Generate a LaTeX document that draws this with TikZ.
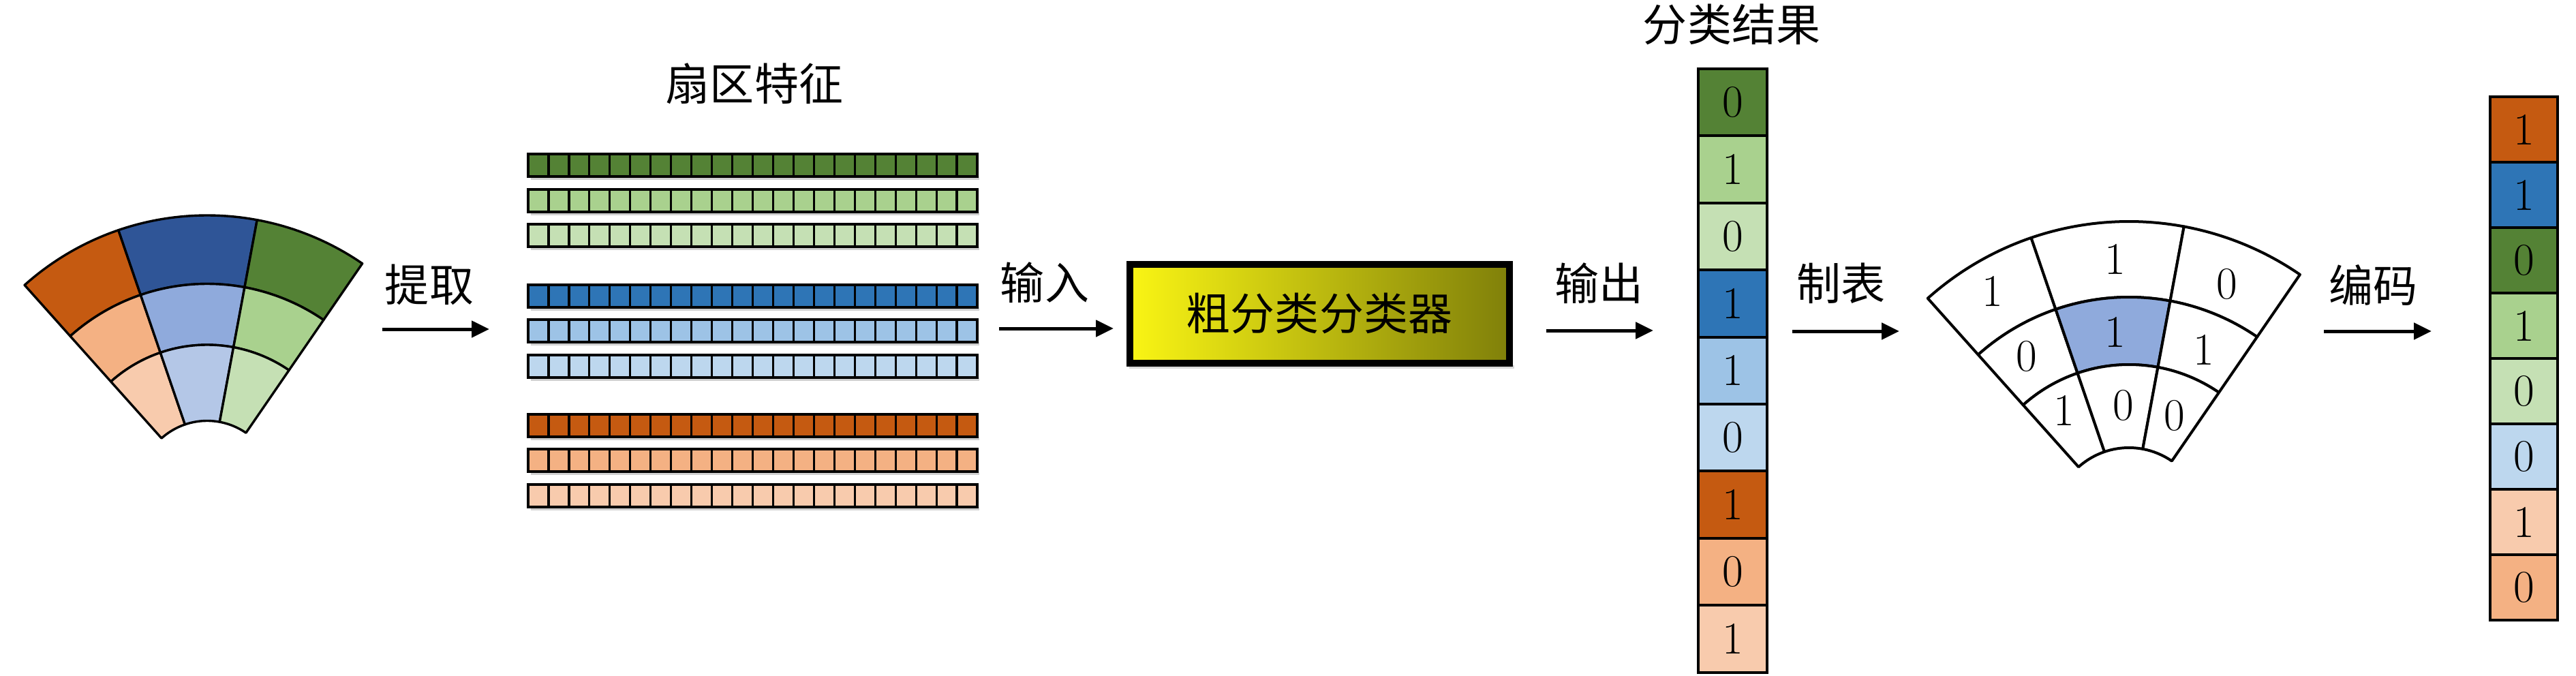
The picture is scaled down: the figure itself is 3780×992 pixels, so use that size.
\documentclass[tikz,border=0pt]{standalone}
\usepackage{fontspec}
\newfontfamily\cjk{Noto Sans CJK SC}
\usetikzlibrary{arrows.meta}
\definecolor{dorange}{HTML}{C55A11}
\definecolor{morange}{HTML}{F4B183}
\definecolor{lorange}{HTML}{F8CBAD}
\definecolor{dnavy}{HTML}{2F5597}
\definecolor{mnavy}{HTML}{8FAADC}
\definecolor{lnavy}{HTML}{B4C7E7}
\definecolor{dgreen}{HTML}{548235}
\definecolor{mgreen}{HTML}{A9D18E}
\definecolor{lgreen}{HTML}{C5E0B4}
\definecolor{dblue}{HTML}{2E75B6}
\definecolor{mblue}{HTML}{9DC3E6}
\definecolor{lblue}{HTML}{BDD7EE}
\definecolor{yelA}{RGB}{250,245,20}
\definecolor{yelB}{RGB}{222,222,16}
\definecolor{yelC}{RGB}{128,128,10}
\newcommand\fancell[5]{%
  \filldraw[fanline, fill=#5] (#1:#3) -- (#1:#4)
    arc[start angle=#1, end angle=#2, radius=#4*0.1mm] -- (#2:#3)
    arc[start angle=#2, end angle=#1, radius=#3*0.1mm] -- cycle;}
\begin{document}
\begin{tikzpicture}[x=0.1mm,y=0.1mm,
  fanline/.style={line width=0.34mm, draw=black, line join=round},
  cellline/.style={line width=0.32mm, draw=black},
  lbl/.style={font=\cjk\fontsize{18.5}{20}\selectfont, inner sep=0pt},
  digit/.style={font=\fontsize{19}{20}\selectfont, inner sep=0pt},
  colcell/.style={draw=black, line width=0.4mm, inner sep=0pt, font=\fontsize{19}{20}\selectfont},
  arr/.style={line width=0.5mm, -{Triangle[length=2.6mm,width=2.4mm]}},
  clfbox/.style={draw=black, line width=1mm, minimum width=55.7mm, minimum height=14.5mm,
    left color=yelA, middle color=yelB, right color=yelC, inner sep=0pt,
    font=\cjk\fontsize{18.5}{20}\selectfont}
]
\useasboundingbox (0,0) rectangle (3780,-992);

% ---------- left fan ----------
\begin{scope}[shift={(304,-718)}]
  \fancell{108.9}{131.8}{301.5}{402}{dorange}
  \fancell{79.5}{108.9}{301.5}{402}{dnavy}
  \fancell{55.5}{79.5}{301.5}{402}{dgreen}
  \fancell{108.9}{131.8}{212}{301.5}{morange}
  \fancell{79.5}{108.9}{212}{301.5}{mnavy}
  \fancell{55.5}{79.5}{212}{301.5}{mgreen}
  \fancell{108.9}{131.8}{100.5}{212}{lorange}
  \fancell{79.5}{108.9}{100.5}{212}{lnavy}
  \fancell{55.5}{79.5}{100.5}{212}{lgreen}
\end{scope}

% ---------- feature strips ----------
\foreach \yt/\col in {226/dgreen, 278/mgreen, 329/lgreen, 418/dblue, 469/mblue, 521/lblue, 608/dorange, 659/morange, 711/lorange}{
  \fill[black!18] (779,-\yt-33) rectangle (1437,-\yt-38);
  \filldraw[cellline, fill=\col] (775,-\yt) rectangle (1434,-\yt-33);
  \foreach \k in {1,...,21}
    \draw[cellline] ({775+\k*659/22},-\yt) -- ++(0,-33);
}

% ---------- labels ----------
\node[lbl] (t1) at (630,-418) {提取};
\node[lbl] (t2) at (1107,-123) {扇区特征};
\node[lbl] (t3) at (1533,-415) {输入};
\node[lbl] (t4) at (2346,-416) {输出};
\node[lbl] (t5) at (2541,-36) {分类结果};
\node[lbl] (t6) at (2701,-416) {制表};
\node[lbl] (t7) at (3482,-418) {编码};

% ---------- classifier ----------
\fill[black!15] (1657,-541) rectangle (2222,-536);
\node[clfbox] (clf) at (1936,-460) {粗分类分类器};

% ---------- arrows ----------
\coordinate (a1s) at (561,-483);  \coordinate (a1e) at (718,-483);
\coordinate (a2s) at (1466,-482); \coordinate (a2e) at (1634,-482);
\coordinate (a3s) at (2269,-485); \coordinate (a3e) at (2426,-485);
\coordinate (a4s) at (2630,-486); \coordinate (a4e) at (2787,-486);
\coordinate (a5s) at (3410,-486); \coordinate (a5e) at (3568,-486);
\draw[arr] (a1s) -- (a1e);
\draw[arr] (a2s) -- (a2e);
\draw[arr] (a3s) -- (a3e);
\draw[arr] (a4s) -- (a4e);
\draw[arr] (a5s) -- (a5e);

% ---------- classification result column ----------
\foreach \d/\col [count=\k] in {0/dgreen,1/mgreen,0/lgreen,1/dblue,1/mblue,0/lblue,1/dorange,0/morange,1/lorange}{
  \node[colcell, fill=\col, minimum width=10.1mm, minimum height=9.84mm]
    (r\k) at (2542.5,{-(101+98.4*(\k-0.5))}) {\d};
}

% ---------- right fan ----------
\begin{scope}[shift={(3124,-768)}, fanline/.append style={line width=0.4mm}]
  \fancell{108.9}{131.8}{332}{443}{white}
  \fancell{79.5}{108.9}{332}{443}{white}
  \fancell{55.5}{79.5}{332}{443}{white}
  \fancell{108.9}{131.8}{233}{332}{white}
  \fancell{79.5}{108.9}{233}{332}{mnavy}
  \fancell{55.5}{79.5}{233}{332}{white}
  \fancell{108.9}{131.8}{111}{233}{white}
  \fancell{79.5}{108.9}{111}{233}{white}
  \fancell{55.5}{79.5}{111}{233}{white}
\end{scope}
\node[digit] (f1) at (2924,-427) {1};
\node[digit] (f2) at (3104,-380) {1};
\node[digit] (f3) at (3268,-417) {0};
\node[digit] (f4) at (2974,-523) {0};
\node[digit] (f5) at (3104,-487) {1};
\node[digit] (f6) at (3234,-513) {1};
\node[digit] (f7) at (3029,-602) {1};
\node[digit] (f8) at (3116,-595) {0};
\node[digit] (f9) at (3191,-610) {0};

% ---------- code column ----------
\foreach \d/\col [count=\k] in {1/dorange,1/dblue,0/dgreen,1/mgreen,0/lgreen,0/lblue,1/lorange,0/morange}{
  \node[colcell, fill=\col, minimum width=9.9mm, minimum height=9.6mm]
    (s\k) at (3703.5,{-(142+96*(\k-0.5))}) {\d};
}
\end{tikzpicture}
\end{document}
